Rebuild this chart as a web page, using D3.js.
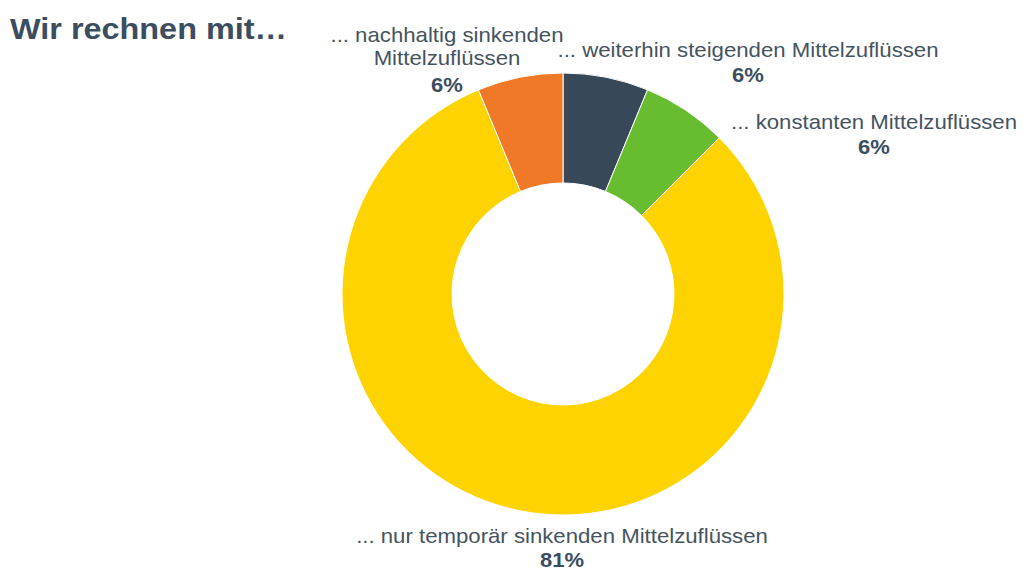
<!DOCTYPE html>
<html>
<head>
<meta charset="utf-8">
<script src="https://cdn.jsdelivr.net/npm/d3@7"></script>
<style>
  body { margin: 0; background: #fff; }
  text { font-family: "Liberation Sans", Arial, sans-serif; }
</style>
</head>
<body>
<svg id="chart" width="1024" height="571"></svg>
<script>
// answers (counts), in clockwise order from 12 o'clock
const categories = [
    "... weiterhin steigenden Mittelzuflüssen",
    "... konstanten Mittelzuflüssen",
    "... nur temporär sinkenden Mittelzuflüssen",
    "... nachhaltig sinkenden Mittelzuflüssen"
];
const counts = [1, 1, 13, 1];
const percentLabels = ["6%", "6%", "81%", "6%"];
const colors = ["#374858", "#67bc2f", "#fed300", "#ef7926"];

const svg = d3.select("#chart");
const cx = 563, cy = 294;
const outerR = 221, innerR = 111;
const stretch = 1.1; // the original text is a bit wider than Liberation Sans

svg.append("text")
    .attr("transform", `translate(10,39) scale(${stretch - 0.02},1)`)
    .attr("fill", "#3b4d5f")
    .attr("font-size", 30)
    .attr("font-weight", "bold")
    .text("Wir rechnen mit…");

const pie = d3.pie().sort(null).value(d => d);
const arcs = pie(counts);
const arc = d3.arc().innerRadius(innerR).outerRadius(outerR);

const g = svg.append("g").attr("transform", `translate(${cx},${cy})`);

g.selectAll("path")
    .data(arcs)
    .join("path")
    .attr("d", arc)
    .attr("fill", (d, i) => colors[i])
    .attr("stroke", "#fff")
    .attr("stroke-width", 1);

// label text broken into lines
const labelLines = [
    ["... weiterhin steigenden Mittelzuflüssen"],
    ["... konstanten Mittelzuflüssen"],
    ["... nur temporär sinkenden Mittelzuflüssen"],
    ["... nachhaltig sinkenden", "Mittelzuflüssen"]
];
// block centre x, first baseline, gap to the percent line (layout only)
const labelPos = [
    [748, 57, 25],
    [874, 129, 25],
    [562, 543, 24],
    [447, 42, 27]
];

const labels = svg.append("g")
    .attr("text-anchor", "middle")
    .attr("fill", "#45535f");

arcs.forEach((d, i) => {
    const [x, y, gap] = labelPos[i];
    const t = labels.append("text")
        .attr("transform", `translate(${x},${y}) scale(${stretch + 0.01},1)`)
        .attr("font-size", 20);
    labelLines[i].forEach((line, j) => {
        t.append("tspan")
            .attr("x", 0)
            .attr("dy", j === 0 ? 0 : 23)
            .text(line);
    });
    const py = y + 23 * (labelLines[i].length - 1) + gap;
    labels.append("text")
        .attr("transform", `translate(${x},${py}) scale(${stretch},1)`)
        .attr("font-size", 20)
        .attr("font-weight", "bold")
        .attr("fill", "#3b4d5f")
        .text(percentLabels[i]);
});
</script>
</body>
</html>
